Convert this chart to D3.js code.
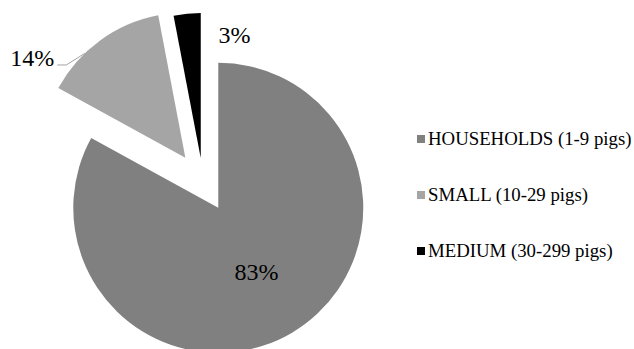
<!DOCTYPE html>
<html>
<head>
<meta charset="utf-8">
<script src="https://cdn.jsdelivr.net/npm/d3@7"></script>
<style>
  body { margin: 0; background: #fff; }
  text { font-family: "Liberation Serif", "Times New Roman", serif; }
</style>
</head>
<body>
<script>
// farm size categories and share of farms
let categories = ["HOUSEHOLDS (1-9 pigs)", "SMALL (10-29 pigs)", "MEDIUM (30-299 pigs)"];
let shares = [83, 14, 3];
let labels = ["83%", "14%", "3%"];

let width = 634, height = 349;
let radius = 145;
let cx = 203, cy = 182;
let explode = [30, 30, 24];
let colors = ["#808080", "#a5a5a5", "#000000"];

let svg = d3.select("body")
  .append("svg")
  .attr("width", width)
  .attr("height", height)

let pie = d3.pie().sort(null).value(d => d)
let arcs = pie(shares)
let arc = d3.arc().innerRadius(0).outerRadius(radius)

function offset(d, i) {
  let a = (d.startAngle + d.endAngle) / 2
  return [Math.sin(a) * explode[i], -Math.cos(a) * explode[i]]
}

let g = svg.append("g").attr("transform", `translate(${cx},${cy})`)

g.selectAll("path")
  .data(arcs)
  .join("path")
  .attr("transform", (d, i) => { let o = offset(d, i); return `translate(${o[0]},${o[1]})` })
  .attr("d", arc)
  .attr("fill", (d, i) => colors[i])

// data labels: angle (deg) and distance from pie centre
let labelPos = [[149, 104], [306, 211], [12, 151]]
g.selectAll("text.lbl")
  .data(arcs)
  .join("text")
  .attr("class", "lbl")
  .attr("x", (d, i) => Math.sin(labelPos[i][0] * Math.PI / 180) * labelPos[i][1])
  .attr("y", (d, i) => -Math.cos(labelPos[i][0] * Math.PI / 180) * labelPos[i][1])
  .attr("dy", "0.35em")
  .attr("text-anchor", "middle")
  .style("font-size", "24px")
  .attr("fill", "#000")
  .text((d, i) => labels[i])

// leader line for the small slice label
let s = arcs[1], so = offset(s, 1)
let la = 316 * Math.PI / 180
let lx = Math.sin(labelPos[1][0] * Math.PI / 180) * labelPos[1][1]
let ly = -Math.cos(labelPos[1][0] * Math.PI / 180) * labelPos[1][1]
g.append("path")
  .attr("d", d3.line()([
    [lx + 25, ly + 7],
    [lx + 34, ly + 7],
    [so[0] + Math.sin(la) * radius, so[1] - Math.cos(la) * radius]
  ]))
  .attr("fill", "none")
  .attr("stroke", "#8c8c8c")
  .attr("stroke-width", 0.8)

// legend
let legendY = d3.scalePoint().domain(categories).range([140, 252])
let legend = svg.selectAll("g.leg")
  .data(categories)
  .join("g")
  .attr("class", "leg")
  .attr("transform", d => `translate(417,${legendY(d)})`)

legend.append("rect")
  .attr("x", 0)
  .attr("y", -5)
  .attr("width", 8)
  .attr("height", 8)
  .attr("fill", (d, i) => colors[i])

legend.append("text")
  .attr("x", 11)
  .attr("y", 5)
  .style("font-size", "18.8px")
  .attr("fill", "#000")
  .text(d => d)
</script>
</body>
</html>
